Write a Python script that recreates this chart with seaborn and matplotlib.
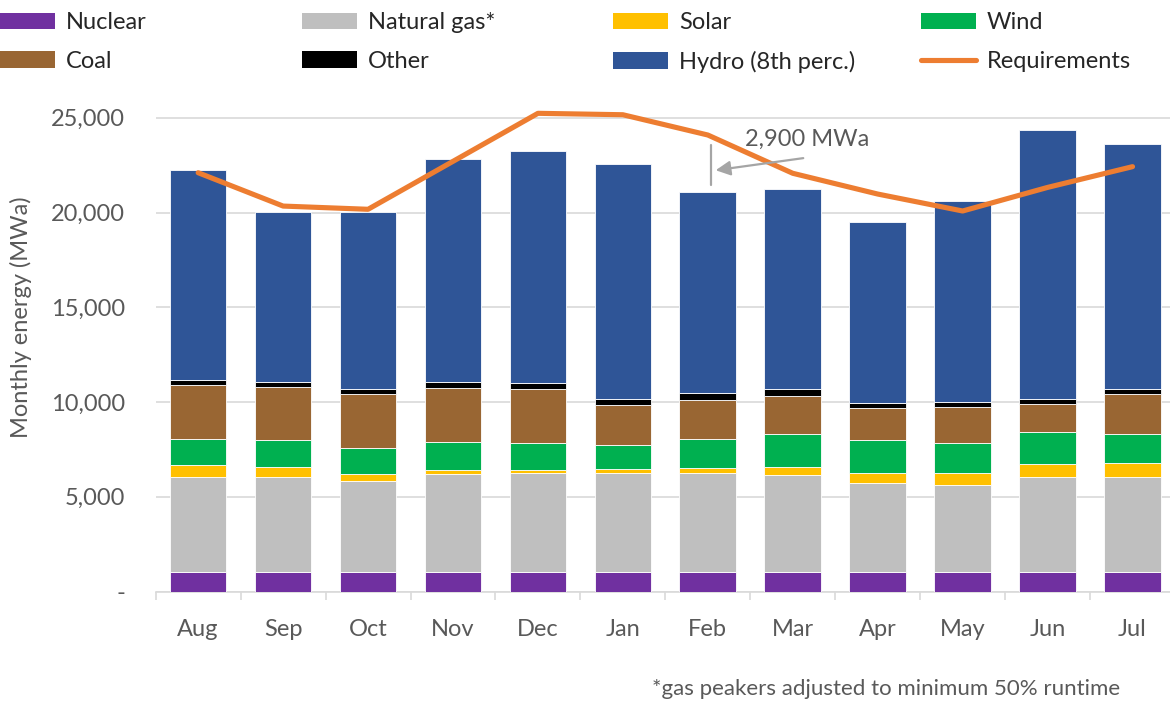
import numpy as np
import pandas as pd
import matplotlib
matplotlib.use("Agg")
import matplotlib.pyplot as plt
from matplotlib.patches import Patch
from matplotlib.lines import Line2D
from matplotlib.ticker import FixedLocator, FuncFormatter
import seaborn as sns

# ---------------- data ----------------
months = ["Aug", "Sep", "Oct", "Nov", "Dec", "Jan", "Feb", "Mar", "Apr", "May", "Jun", "Jul"]
nuclear = [1050, 1050, 1050, 1050, 1050, 1050, 1050, 1050, 1050, 1050, 1050, 1050]
natural_gas = [4990, 5010, 4800, 5150, 5220, 5220, 5185, 5100, 4690, 4585, 4975, 4990]
solar = [635, 530, 365, 210, 140, 195, 280, 400, 530, 600, 705, 725]
wind = [1355, 1390, 1340, 1495, 1410, 1250, 1515, 1745, 1710, 1585, 1670, 1560]
coal = [2850, 2830, 2885, 2835, 2850, 2110, 2075, 2040, 1690, 1900, 1480, 2095]
other = [265, 260, 260, 315, 315, 315, 370, 335, 275, 280, 295, 265]
hydro = [11085, 8970, 9340, 11755, 12260, 12405, 10625, 10585, 9570, 10625, 14180, 12945]
requirements = [22100, 20340, 20170, 22700, 25235, 25160, 24090, 22070, 20975, 20080, 21325, 22420]

series_names = ["Nuclear", "Natural gas*", "Solar", "Wind", "Coal", "Other", "Hydro (8th perc.)"]
series_values = [nuclear, natural_gas, solar, wind, coal, other, hydro]
series_colors = ["#7030A0", "#BFBFBF", "#FFC000", "#00B050", "#996633", "#000000", "#2F5597"]
req_color = "#ED7D31"
yticks = [0, 5000, 10000, 15000, 20000, 25000]
annotation_text = "2,900 MWa"
footnote = "*gas peakers adjusted to minimum 50% runtime"

# ---------------- style ----------------
sns.set_theme(style="white")
plt.rcParams["font.family"] = ["Lato", "DejaVu Sans"]
FS = 17
GRID = "#D9D9D9"
TXT = "#595959"

W, H = 1170, 701
fig = plt.figure(figsize=(W / 100, H / 100), dpi=100)
ax_left, ax_right = 155.7, 1175.0
ax_bottom, ax_top = 591.5, 106.4
ax = fig.add_axes([ax_left / W, 1 - ax_bottom / H, (ax_right - ax_left) / W, (ax_bottom - ax_top) / H])

# ---------------- stacked bars ----------------
bottom = np.zeros(len(months))
for name, vals, col in zip(series_names, series_values, series_colors):
    df = pd.DataFrame({"month": months, "value": vals})
    sns.barplot(data=df, x="month", y="value", order=months, color=col,
                bottom=bottom.copy(), width=0.667, edgecolor="white", linewidth=0.6,
                saturation=1, ax=ax, zorder=2)
    bottom += np.array(vals)

# requirements line
sns.lineplot(x=np.arange(len(months)), y=requirements, color=req_color, lw=3.7,
             ax=ax, zorder=5, solid_capstyle="round", solid_joinstyle="round", sort=False)

# ---------------- axes ----------------
ax.set_xlim(-0.5, len(months) - 0.5)
ax.set_ylim(0, 25600)
ax.yaxis.set_major_locator(FixedLocator(yticks))
ax.yaxis.set_major_formatter(FuncFormatter(lambda v, p: "-" if v == 0 else f"{int(v):,}"))
ax.grid(axis="y", color=GRID, lw=1.2, zorder=0)
ax.set_axisbelow(True)
for s in ["top", "right", "left"]:
    ax.spines[s].set_visible(False)
ax.spines["bottom"].set_color(GRID)
ax.spines["bottom"].set_linewidth(1.2)
ax.spines["bottom"].set_zorder(1)

ax.set_xticks(np.arange(len(months)))
ax.set_xticklabels(months)
ax.set_xticks(np.arange(-0.5, len(months)), minor=True)
ax.tick_params(axis="x", which="major", length=0, pad=20, labelsize=FS, labelcolor=TXT)
ax.tick_params(axis="x", which="minor", length=6, width=1.2, color=GRID, direction="out", bottom=True)
ax.tick_params(axis="y", length=0, pad=22, labelsize=FS, labelcolor=TXT)
ax.set_xlabel("")
ax.set_ylabel("Monthly energy (MWa)", fontsize=FS, color=TXT, va="center")
ax.yaxis.set_label_coords(-0.132, 0.565)

# ---------------- annotation ----------------
feb = months.index("Feb")
ax.plot([feb + 0.034, feb + 0.034], [21450, 23560], color="#A5A5A5", lw=1.6, zorder=6)
ax.annotate("", xy=(feb + 0.06, 22210), xytext=(feb + 1.156, 22890),
            arrowprops=dict(arrowstyle="-|>", color="#A5A5A5", lw=1.6, mutation_scale=22), zorder=6)
ax.text(feb + 1.167, 23510, annotation_text, ha="center", va="baseline", fontsize=FS, color=TXT, zorder=7)

# ---------------- legend ----------------
handles = [Patch(facecolor=c, edgecolor="none") for c in series_colors]
handles.append(Line2D([0], [0], color=req_color, lw=3.7, solid_capstyle="round"))
labels = series_names + ["Requirements"]
columns = [(0, 4), (1, 5), (2, 6), (3, 7)]
col_x = [0, 302, 613, 921]
for (i, j), x in zip(columns, col_x):
    fig.legend([handles[i], handles[j]], [labels[i], labels[j]], loc="upper left",
               bbox_to_anchor=(x / W, 1 - 12 / H), frameon=False, fontsize=FS,
               handlelength=2.35, handleheight=0.68, handletextpad=0.45,
               labelspacing=0.75, borderpad=0, borderaxespad=0)

fig.text(1120 / W, 1 - 695 / H, footnote, ha="right", va="baseline", fontsize=FS - 1, color=TXT)

fig.savefig("out.png", dpi=100)
